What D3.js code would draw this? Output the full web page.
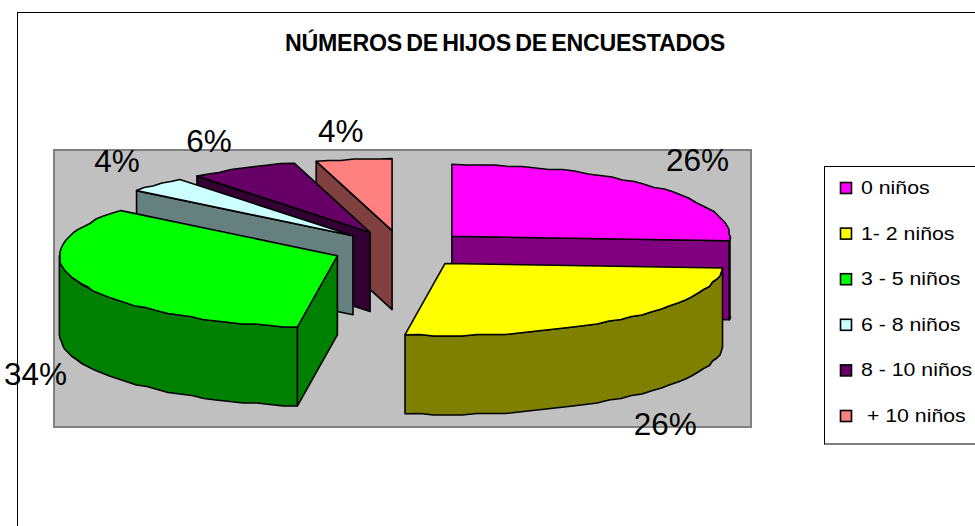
<!DOCTYPE html>
<html><head><meta charset="utf-8">
<script src="https://cdn.jsdelivr.net/npm/d3@7"></script>
<style>html,body{margin:0;padding:0;background:#fff;overflow:hidden}svg{display:block}text{font-family:"Liberation Sans",Arial,sans-serif;fill:#000}</style>
</head><body><svg id="c" width="975" height="526"></svg>
<script>
const categories = ["0 niños","1- 2 niños","3 - 5 niños","6 - 8 niños","8 - 10 niños"," + 10 niños"];
const values = [26, 26.3, 33.5, 3.5, 6.3, 4.4];
const topColors = ["#FF00FF","#FFFF00","#00FF00","#CCFFFF","#660066","#FF8080"];
const sideColors = ["#800080","#808000","#008000","#668080","#330033","#804040"];
const chartTitle = "NÚMEROS DE HIJOS DE ENCUESTADOS";

const W=975,H=526;
const svg=d3.select("#c");
const cx=401.6, cy=249, rx=278, ry=72, depth=79, explodeX=69, explodeY=18.6, grid=1.5;
const labelNudge=[[43,-16],[45,116],[-43,103],[-40,-13],[-34,-16],[-13,-17]];

const line=d3.line().x(d=>d[0]).y(d=>d[1]);
svg.append("rect").attr("x",17.5).attr("y",12.5).attr("width",W+20).attr("height",H+20).attr("fill","#fff").attr("stroke","#000");
svg.append("rect").attr("x",54).attr("y",150).attr("width",697).attr("height",277).attr("fill","#C0C0C0").attr("stroke","#808080").attr("stroke-width",2);
svg.append("text").attr("x",505).attr("y",51).attr("text-anchor","middle").attr("font-weight","bold").attr("font-size",23.2).style("word-spacing","-2px").style("letter-spacing","-0.2px").text(chartTitle);

const pie=d3.pie().sort(null).value(d=>d);
const arcs=pie(values);
const slices=arcs.map((a,i)=>{
  const mid=(a.startAngle+a.endAngle)/2;
  return {i,a,mid,ox:cx+explodeX*Math.sin(mid),oy:cy-explodeY*Math.cos(mid)};
});
const pt=(s,ang,dz=0)=>[s.ox+rx*Math.sin(ang),s.oy-ry*Math.cos(ang)+dz];
const snap=v=>Math.round(v/grid)*grid;
const arcPts=(s,a0,a1,dz=0)=>{
  const n=Math.max(2,Math.ceil(Math.abs(a1-a0)/(Math.PI/60)));
  return d3.range(n+1).map(k=>{
    const q=pt(s,a0+(a1-a0)*k/n);
    return (k===0||k===n)?[q[0],q[1]+dz]:[snap(q[0]),snap(q[1])+dz];
  });
};
const drawPoly=(g,pts,fill)=>g.append("path").attr("d",line(pts)+"Z").attr("fill",fill).attr("stroke","#000").attr("stroke-width",1.6).attr("stroke-linejoin","round");

function drawSlice(s){
  const g=svg.append("g");
  const {a,ox,oy,i}=s, a0=a.startAngle,a1=a.endAngle;
  const apex=[ox,oy], apexB=[ox,oy+depth];
  const face=(ang)=>{const p=pt(s,ang);drawPoly(g,[apex,p,[p[0],p[1]+depth],apexB],sideColors[i]);};
  if(Math.cos(a0-Math.PI/2)<0) face(a0);
  if(Math.cos(a1+Math.PI/2)<0) face(a1);
  const w0=Math.max(a0,Math.PI/2), w1=Math.min(a1,3*Math.PI/2);
  if(w1>w0){
    const t=arcPts(s,w0,w1), b=arcPts(s,w1,w0,depth);
    drawPoly(g,t.concat(b),sideColors[i]);
  }
  drawPoly(g,[apex].concat(arcPts(s,a0,a1)),topColors[i]);
}
[0,1,5,4,3,2].forEach(i=>drawSlice(slices[i]));

slices.forEach((s,i)=>{
  const p=pt(s,s.mid);
  svg.append("text").attr("x",p[0]+labelNudge[i][0]).attr("y",p[1]+labelNudge[i][1]).attr("text-anchor","middle").attr("font-size",31.5).text(d3.format(".0f")(values[i])+"%");
});

const lx=824.5, ly=166.5, lh=277.5;
svg.append("rect").attr("x",lx).attr("y",ly).attr("width",W).attr("height",lh).attr("fill","#fff").attr("stroke","#000");
const ys=d3.scalePoint().domain(d3.range(categories.length)).range([188,416]);
categories.forEach((c,i)=>{
  svg.append("rect").attr("x",840.5).attr("y",ys(i)-5.5).attr("width",11).attr("height",11).attr("fill",topColors[i]).attr("stroke","#000").attr("stroke-width",1.6);
  const t=svg.append("text").attr("x",861).attr("y",ys(i)+6).attr("font-size",19).style("white-space","pre").text(c);
  t.attr("textLength",t.node().getComputedTextLength()*1.12).attr("lengthAdjust","spacingAndGlyphs");
});
</script></body></html>
